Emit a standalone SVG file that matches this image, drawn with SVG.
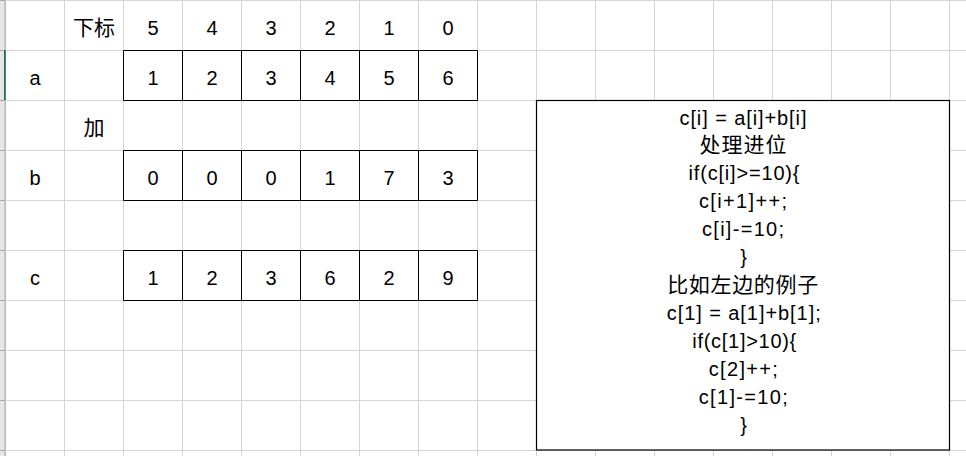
<svg xmlns="http://www.w3.org/2000/svg" width="966" height="456" viewBox="0 0 966 456">
<style>
.g{stroke:#d4d4d4;stroke-width:1;fill:none}
.t{font-family:"Liberation Sans","Noto Sans CJK SC",sans-serif;font-size:20px;fill:#000;text-anchor:middle}
.cj{font-family:"Noto Sans CJK SC","Liberation Sans",sans-serif;font-size:21px;fill:#000;text-anchor:middle}
.cell{fill:none;stroke:#000;stroke-width:1}
</style>
<rect x="0" y="0" width="966" height="456" fill="#fff"/>
<g id="grid">
<rect x="0" y="0" width="5" height="456" fill="#e6e6e6"/>
<line x1="5.2" y1="0" x2="5.2" y2="456" stroke="#a6a6a6" stroke-width="1.2"/>
<path class="g" d="M5 0.5H966M5 50.5H966M5 100.5H966M5 150.5H966M5 200.5H966M5 250.5H966M5 300.5H966M5 350.5H966M5 400.5H966M5 450.5H966"/>
<path d="M0 0.5H5M0 50.5H5M0 100.5H5M0 150.5H5M0 200.5H5M0 250.5H5M0 300.5H5M0 350.5H5M0 400.5H5M0 450.5H5" stroke="#a6a6a6" stroke-width="1"/>
<path class="g" d="M64.5 0V456M123.5 0V456M182.5 0V456M241.5 0V456M300.5 0V456M359.5 0V456M418.5 0V456M477.5 0V456M536.5 0V456M595.5 0V456M654.5 0V456M713.5 0V456M772.5 0V456M831.5 0V456M890.5 0V456M949.5 0V456"/>
<rect x="4" y="50" width="1.7" height="50" fill="#217346"/>
</g>
<g id="header-row">
<text class="cj" x="94" y="35">下标</text>
<text class="t" x="153" y="35">5</text>
<text class="t" x="212" y="35">4</text>
<text class="t" x="271" y="35">3</text>
<text class="t" x="330" y="35">2</text>
<text class="t" x="389" y="35">1</text>
<text class="t" x="448" y="35">0</text>
</g>
<g id="row-a">
<text class="t" x="35" y="85">a</text>
<path class="cell" d="M123.5 50.5H477.5V100.5H123.5ZM182.5 50.5V100.5M241.5 50.5V100.5M300.5 50.5V100.5M359.5 50.5V100.5M418.5 50.5V100.5"/>
<text class="t" x="153" y="85">1</text>
<text class="t" x="212" y="85">2</text>
<text class="t" x="271" y="85">3</text>
<text class="t" x="330" y="85">4</text>
<text class="t" x="389" y="85">5</text>
<text class="t" x="448" y="85">6</text>
</g>
<g id="plus">
<text class="cj" x="94" y="135">加</text>
</g>
<g id="row-b">
<text class="t" x="35" y="185">b</text>
<path class="cell" d="M123.5 150.5H477.5V200.5H123.5ZM182.5 150.5V200.5M241.5 150.5V200.5M300.5 150.5V200.5M359.5 150.5V200.5M418.5 150.5V200.5"/>
<text class="t" x="153" y="185">0</text>
<text class="t" x="212" y="185">0</text>
<text class="t" x="271" y="185">0</text>
<text class="t" x="330" y="185">1</text>
<text class="t" x="389" y="185">7</text>
<text class="t" x="448" y="185">3</text>
</g>
<g id="row-c">
<text class="t" x="35" y="285">c</text>
<path class="cell" d="M123.5 250.5H477.5V300.5H123.5ZM182.5 250.5V300.5M241.5 250.5V300.5M300.5 250.5V300.5M359.5 250.5V300.5M418.5 250.5V300.5"/>
<text class="t" x="153" y="285">1</text>
<text class="t" x="212" y="285">2</text>
<text class="t" x="271" y="285">3</text>
<text class="t" x="330" y="285">6</text>
<text class="t" x="389" y="285">2</text>
<text class="t" x="448" y="285">9</text>
</g>
<g id="note">
<rect x="536.5" y="100.5" width="413" height="349.5" fill="#fff" stroke="#000" stroke-width="1.2"/>
<text class="t" x="743" y="124.5" textLength="127" lengthAdjust="spacing">c[i] = a[i]+b[i]</text>
<text class="cj" x="743" y="152" textLength="87" lengthAdjust="spacing">处理进位</text>
<text class="t" x="744" y="180" textLength="111" lengthAdjust="spacing">if(c[i]&gt;=10){</text>
<text class="t" x="743" y="208" textLength="88" lengthAdjust="spacing">c[i+1]++;</text>
<text class="t" x="743" y="236" textLength="82" lengthAdjust="spacing">c[i]-=10;</text>
<text class="t" x="743.5" y="264">}</text>
<text class="cj" x="742.7" y="292" textLength="151" lengthAdjust="spacing">比如左边的例子</text>
<text class="t" x="743.7" y="320" textLength="154" lengthAdjust="spacing">c[1] = a[1]+b[1];</text>
<text class="t" x="744.3" y="348" textLength="104" lengthAdjust="spacing">if(c[1]&gt;10){</text>
<text class="t" x="743.3" y="375.5" textLength="69" lengthAdjust="spacing">c[2]++;</text>
<text class="t" x="743.3" y="403.5" textLength="89" lengthAdjust="spacing">c[1]-=10;</text>
<text class="t" x="743.5" y="431.5">}</text>
</g>
</svg>
